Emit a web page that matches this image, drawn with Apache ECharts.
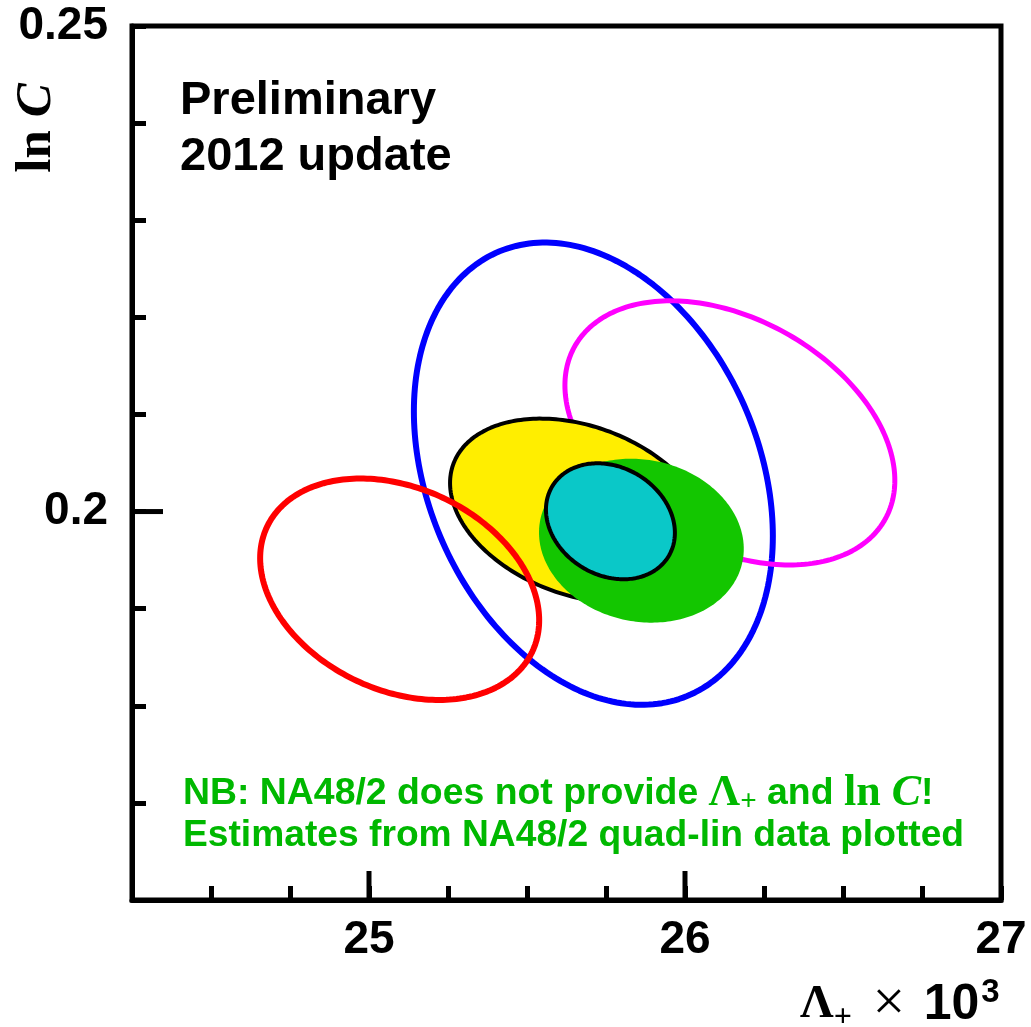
<!DOCTYPE html>
<html>
<head>
<meta charset="utf-8">
<title>Λ+ vs ln C</title>
<script src="https://cdn.jsdelivr.net/npm/echarts@6/dist/echarts.min.js"></script>
<style>
  html, body { margin: 0; padding: 0; background: #fff; }
  #chart { width: 1031px; height: 1027px; }
</style>
</head>
<body>
<div id="chart"></div>
<script>
// Axis ranges and tick labels
const xRange = [24.25, 27];
const yRange = [0.16, 0.25];
const xTickLabels = [25, 26, 27];
const yTickLabels = [0.2, 0.25];
const xMajorTicks = [25, 26];
const yMajorTicks = [0.2];

// Contours: centre, half-extent along each axis, correlation coefficient
const contourNames  = ['blue', 'magenta', 'yellow', 'red', 'green', 'cyan'];
const centreLambda  = [25.710, 26.142, 25.666, 25.097, 25.862, 25.764];
const centreLnC     = [0.2039, 0.2081, 0.2001, 0.1920, 0.1970, 0.1990];
const halfLambda    = [0.568, 0.522, 0.4095, 0.4415, 0.324, 0.204];
const halfLnC       = [0.0238, 0.0136, 0.00947, 0.0114, 0.00844, 0.00597];
const correlation   = [-0.27, -0.36, -0.30, -0.28, -0.10, -0.20];

// Drawing style of each contour (same order as above)
const contourStyles = {
  blue:    { fill: 'none',    stroke: '#0000ff', lineWidth: 6 },
  magenta: { fill: 'none',    stroke: '#ff00ff', lineWidth: 5 },
  yellow:  { fill: '#ffee00', stroke: '#000000', lineWidth: 4 },
  red:     { fill: 'none',    stroke: '#ff0000', lineWidth: 6 },
  green:   { fill: '#13c600', stroke: 'none',    lineWidth: 0 },
  cyan:    { fill: '#0ac8c8', stroke: '#000000', lineWidth: 4 }
};

const SANS = '"Liberation Sans", Arial, Helvetica, sans-serif';
const SERIF = '"Liberation Serif", "Times New Roman", Times, serif';
const GREEN_TEXT = '#00b800';

function near(v, list) {
  return list.some(function (t) { return Math.abs(v - t) < 1e-6; });
}

// Closed contour of a correlated 2D error ellipse, mapped through the axes
function renderContour(params, api) {
  const cx = api.value(0), cy = api.value(1);
  const ax = api.value(2), ay = api.value(3), r = api.value(4);
  const s = Math.sqrt(1 - r * r);
  const pts = [];
  const n = 240;
  for (let k = 0; k < n; k++) {
    const t = 2 * Math.PI * k / n;
    pts.push(api.coord([cx + ax * Math.cos(t), cy + ay * (r * Math.cos(t) + s * Math.sin(t))]));
  }
  const st = contourStyles[contourNames[params.seriesIndex]];
  return {
    type: 'polygon',
    shape: { points: pts },
    style: {
      fill: st.fill === 'none' ? null : st.fill,
      stroke: st.stroke === 'none' ? null : st.stroke,
      lineWidth: st.lineWidth,
      lineJoin: 'round'
    }
  };
}

const contourSeries = contourNames.map(function (name, i) {
  return {
    name: name,
    type: 'custom',
    renderItem: renderContour,
    encode: { x: 0, y: 1 },
    data: [[centreLambda[i], centreLnC[i], halfLambda[i], halfLnC[i], correlation[i]]],
    silent: true,
    z: 2
  };
});

// Longer ticks at the labelled values
const majorTickSeries = [
  {
    type: 'custom',
    silent: true,
    z: 3,
    data: xMajorTicks.map(function (v) { return [v, yRange[0]]; }),
    renderItem: function (params, api) {
      const p = api.coord([api.value(0), api.value(1)]);
      return { type: 'line', shape: { x1: p[0], y1: p[1], x2: p[0], y2: p[1] - 29 },
               style: { stroke: '#000', lineWidth: 5 } };
    }
  },
  {
    type: 'custom',
    silent: true,
    z: 3,
    data: yMajorTicks.map(function (v) { return [xRange[0], v]; }),
    renderItem: function (params, api) {
      const p = api.coord([api.value(0), api.value(1)]);
      return { type: 'line', shape: { x1: p[0], y1: p[1], x2: p[0] + 31, y2: p[1] },
               style: { stroke: '#000', lineWidth: 5 } };
    }
  }
];

const chart = echarts.init(document.getElementById('chart'), null, { renderer: 'canvas' });

chart.setOption({
  animation: false,
  backgroundColor: '#ffffff',
  grid: {
    left: 132, top: 26, width: 869, height: 874,
    show: true, borderColor: '#000', borderWidth: 5, backgroundColor: 'transparent'
  },
  xAxis: {
    type: 'value',
    min: xRange[0], max: xRange[1], interval: 0.25,
    axisLine: { show: true, lineStyle: { color: '#000', width: 5 } },
    axisTick: { show: true, inside: true, length: 14, lineStyle: { color: '#000', width: 5 } },
    splitLine: { show: false },
    axisLabel: {
      margin: 17,
      color: '#000', fontSize: 46, fontWeight: 'bold', fontFamily: SANS,
      showMinLabel: true, showMaxLabel: true,
      formatter: function (v) { return near(v, xTickLabels) ? String(Math.round(v)) : ''; }
    }
  },
  yAxis: {
    type: 'value',
    min: yRange[0], max: yRange[1], interval: 0.01,
    axisLine: { show: true, lineStyle: { color: '#000', width: 5 } },
    axisTick: { show: true, inside: true, length: 14, lineStyle: { color: '#000', width: 5 } },
    splitLine: { show: false },
    axisLabel: {
      margin: 24,
      color: '#000', fontSize: 46, fontWeight: 'bold', fontFamily: SANS,
      showMinLabel: true, showMaxLabel: true,
      formatter: function (v) {
        for (let k = 0; k < yTickLabels.length; k++) {
          if (Math.abs(v - yTickLabels[k]) < 1e-6) return String(yTickLabels[k]);
        }
        return '';
      }
    }
  },
  series: contourSeries.concat(majorTickSeries),
  graphic: [
    { type: 'text', x: 180, y: 101, z: 10,
      style: { text: 'Preliminary', fill: '#000', font: 'bold 47px ' + SANS, verticalAlign: 'middle' } },
    { type: 'text', x: 180, y: 157, z: 10,
      style: { text: '2012 update', fill: '#000', font: 'bold 47px ' + SANS, verticalAlign: 'middle' } },
    { type: 'text', x: 183, y: 794, z: 10,
      style: {
        text: '{s|NB: NA48/2 does not provide }{g|Λ}{sub|+}{s| and }{g|ln }{gi|C}{s|!}',
        verticalAlign: 'middle',
        rich: {
          s:   { fill: GREEN_TEXT, fontFamily: SANS, fontWeight: 'bold', fontSize: 37.4, lineHeight: 44 },
          g:   { fill: GREEN_TEXT, fontFamily: SERIF, fontWeight: 'bold', fontSize: 44, lineHeight: 44 },
          gi:  { fill: GREEN_TEXT, fontFamily: SERIF, fontWeight: 'bold', fontStyle: 'italic', fontSize: 44, lineHeight: 44 },
          sub: { fill: GREEN_TEXT, fontFamily: SERIF, fontWeight: 'bold', fontSize: 29, lineHeight: 44, padding: [18, 0, 0, 0] }
        }
      } },
    { type: 'text', x: 183, y: 836, z: 10,
      style: { text: 'Estimates from NA48/2 quad-lin data plotted', fill: GREEN_TEXT,
               font: 'bold 37.2px ' + SANS, verticalAlign: 'middle' } },
    { type: 'text', x: 800, y: 1005, z: 10,
      style: {
        text: '{g|Λ}{sub|+}{x| × }{s|10}{sup|3}',
        verticalAlign: 'middle',
        rich: {
          g:   { fill: '#000', fontFamily: SERIF, fontWeight: 'bold', fontSize: 47, lineHeight: 50 },
          sub: { fill: '#000', fontFamily: SERIF, fontWeight: 'bold', fontSize: 32, lineHeight: 50, padding: [26, 0, 0, 0] },
          x:   { fill: '#000', fontFamily: SERIF, fontWeight: 'normal', fontSize: 58, lineHeight: 50, padding: [0, 2, 0, 6] },
          s:   { fill: '#000', fontFamily: SANS, fontWeight: 'bold', fontSize: 50, lineHeight: 50, padding: [0, 0, 0, 2] },
          sup: { fill: '#000', fontFamily: SANS, fontWeight: 'bold', fontSize: 33, lineHeight: 50, padding: [0, 0, 24, 2] }
        }
      } },
    { type: 'text', x: 37, y: 128, rotation: Math.PI / 2, z: 10,
      style: {
        text: '{g|ln }{gi|C}',
        align: 'center', verticalAlign: 'middle',
        rich: {
          g:  { fill: '#000', fontFamily: SERIF, fontWeight: 'bold', fontSize: 51, lineHeight: 54 },
          gi: { fill: '#000', fontFamily: SERIF, fontWeight: 'bold', fontStyle: 'italic', fontSize: 51, lineHeight: 54 }
        }
      } }
  ]
});
</script>
</body>
</html>
